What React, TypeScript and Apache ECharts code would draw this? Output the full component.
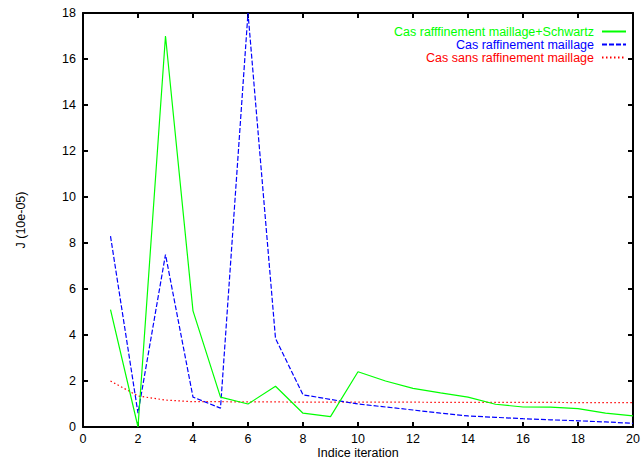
import React, { useEffect, useRef } from "react";
import * as echarts from "echarts";

const iterations = [1, 2, 3, 4, 5, 6, 7, 8, 9, 10, 11, 12, 13, 14, 15, 16, 17, 18, 19, 20];
const schwartz = [5.1, 0.0, 17.0, 5.05, 1.3, 1.0, 1.77, 0.6, 0.45, 2.4, 2.0, 1.68, 1.48, 1.3, 0.99, 0.87, 0.86, 0.8, 0.6, 0.48];
const raffinement = [8.3, 0.6, 7.5, 1.3, 0.82, 18.0, 3.85, 1.4, 1.2, 1.0, 0.87, 0.74, 0.6, 0.48, 0.42, 0.36, 0.31, 0.27, 0.22, 0.16];
const sansRaffinement = [2.0, 1.35, 1.17, 1.1, 1.1, 1.09, 1.09, 1.08, 1.08, 1.08, 1.08, 1.08, 1.07, 1.07, 1.07, 1.07, 1.07, 1.06, 1.06, 1.06];

const seriesNames = [
  "Cas rafffinement maillage+Schwartz",
  "Cas raffinement maillage",
  "Cas sans raffinement maillage",
];
const seriesColors = ["#00ff00", "#0000ff", "#ff0000"];
const xTitle = "Indice iteration";
const yTitle = "J (10e-05)";

const FONT = "Liberation Sans, Arial, Helvetica, sans-serif";
const FS = 12.5;

export default function App() {
  const ref = useRef<HTMLDivElement>(null);
  useEffect(() => {
    if (!ref.current) return;
    const chart = echarts.init(ref.current, null, { renderer: "svg" });
    const toPairs = (vals: number[]) => iterations.map((x, i) => [x, vals[i]]);
    const axisCommon = {
      type: "value" as const,
      axisLine: { show: true, onZero: false, lineStyle: { color: "#000", width: 2 } },
      axisTick: { show: true, inside: true, length: 5, lineStyle: { color: "#000", width: 2 } },
      splitLine: { show: false },
    };
    const datasets = [schwartz, raffinement, sansRaffinement];
    const dashTypes: any[] = ["solid", [5, 2], [1.5, 2.5]];
    chart.setOption({
      animation: false,
      backgroundColor: "#fff",
      textStyle: { fontFamily: FONT },
      grid: { left: 83, right: 11, top: 13, bottom: 36, containLabel: false, outerBoundsMode: "none" },
      legend: {
        orient: "vertical",
        right: 17,
        top: 25,
        padding: 0,
        align: "right",
        itemWidth: 24,
        itemHeight: 12,
        itemGap: 0,
        selectedMode: false,
        itemStyle: { opacity: 0 },
        textStyle: { fontFamily: FONT, fontSize: FS, lineHeight: 12, padding: [0, 3, 0, 0] },
        data: seriesNames.map((n, i) => ({
          name: n,
          textStyle: { color: seriesColors[i] },
        })),
      },
      xAxis: [
        {
          ...axisCommon,
          min: 0,
          max: 20,
          interval: 2,
          position: "bottom",
          name: xTitle,
          nameLocation: "middle",
          nameGap: 20,
          nameMoveOverlap: false,
          nameTextStyle: { color: "#000", fontSize: FS, lineHeight: 12, fontFamily: FONT },
          axisLabel: { color: "#000", fontSize: FS, lineHeight: 12, margin: 6, fontFamily: FONT },
        },
        {
          ...axisCommon,
          min: 0,
          max: 20,
          interval: 2,
          position: "top",
          axisLabel: { show: false },
        },
      ],
      yAxis: [
        {
          ...axisCommon,
          min: 0,
          max: 18,
          interval: 2,
          position: "left",
          name: yTitle,
          nameLocation: "middle",
          nameGap: 56,
          nameRotate: 90,
          nameMoveOverlap: false,
          nameTextStyle: { color: "#000", fontSize: FS, fontFamily: FONT },
          axisLabel: { color: "#000", fontSize: FS, margin: 7, fontFamily: FONT },
        },
        {
          ...axisCommon,
          min: 0,
          max: 18,
          interval: 2,
          position: "right",
          axisLabel: { show: false },
        },
      ],
      series: datasets.map((vals, i) => ({
        name: seriesNames[i],
        type: "line",
        data: toPairs(vals),
        showSymbol: false,
        symbol: "none",
        color: seriesColors[i],
        lineStyle: { color: seriesColors[i], width: 1.2, type: dashTypes[i] },
        z: 3 - i,
      })),
    });
    return () => chart.dispose();
  }, []);
  return <div ref={ref} style={{ width: 644, height: 463, position: "absolute", left: 0, top: 0 }} />;
}
